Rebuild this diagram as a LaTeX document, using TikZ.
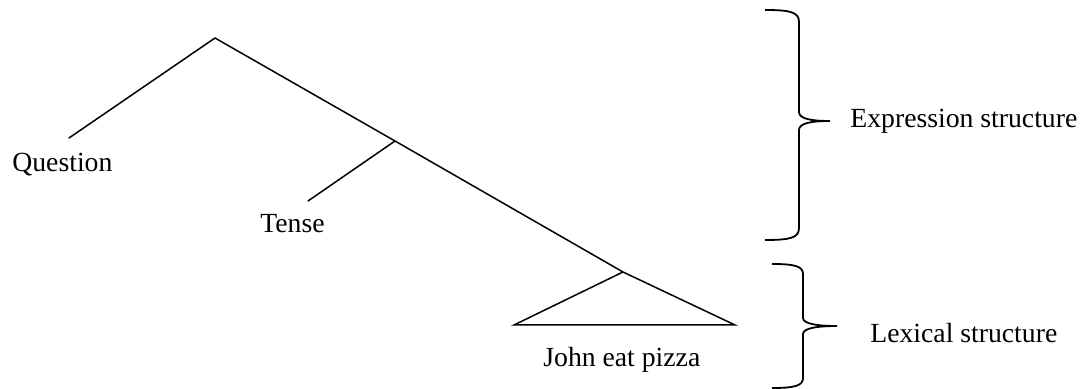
\documentclass[tikz,border=0pt]{standalone}
\usepackage{fontspec}
\setmainfont{Liberation Serif}
\begin{document}
\begin{tikzpicture}[x=0.5pt,y=-0.5pt,
  branch/.style={line width=0.75pt,line cap=round},
  bracepath/.style={line width=0.9pt},
  lbl/.style={inner sep=0pt,anchor=base west,font=\fontsize{13.85}{16}\selectfont}]
\useasboundingbox (0,0) rectangle (1084,389);
% tree points
\coordinate (root) at (215,38);
\coordinate (qend) at (69,138);
\coordinate (tn) at (395,141);
\coordinate (tend) at (308,201);
\coordinate (bn) at (623,272);
\coordinate (tl) at (514,325);
\coordinate (tr) at (735,325);
% labels
\node[lbl] (q) at (12,172) {Question};
\node[lbl] (t) at (260,233) {Tense};
\node[lbl] (j) at (543,367) {John eat pizza};
\node[lbl] (expr) at (850,128) {Expression structure};
\node[lbl] (lex) at (870,343) {Lexical structure};
% branches
\draw[branch] (qend) -- (root) -- (tn) -- (bn) -- (tr) -- (tl) -- (bn);
\draw[branch] (tn) -- (tend);
% braces
\coordinate (b1tip) at (830,121);
\coordinate (b2tip) at (837,326);
\draw[bracepath] (765,10) .. controls (790,10) and (799,12) .. (799,22) -- (799,112)
  .. controls (799,119) and (812,121) .. (b1tip)
  .. controls (812,121) and (799,123) .. (799,130) -- (799,228)
  .. controls (799,238) and (790,240) .. (765,240);
\draw[bracepath] (772,264) .. controls (794,264) and (803,266) .. (803,274) -- (803,318)
  .. controls (803,324) and (818,326) .. (b2tip)
  .. controls (818,326) and (803,328) .. (803,334) -- (803,378)
  .. controls (803,386) and (794,388) .. (772,388);
\end{tikzpicture}
\end{document}
